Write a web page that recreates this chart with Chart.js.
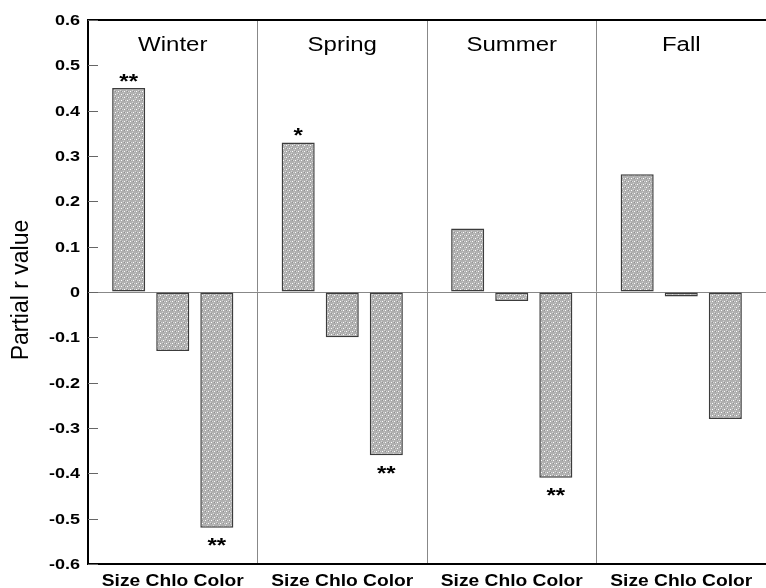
<!DOCTYPE html>
<html>
<head>
<meta charset="utf-8">
<script src="https://cdn.jsdelivr.net/npm/chart.js@4/dist/chart.umd.min.js"></script>
<style>
  html, body { margin: 0; padding: 0; background: #fff; }
  #wrap { width: 766px; height: 588px; }
</style>
</head>
<body>
<div id="wrap"><canvas id="partialChart"></canvas></div>
<script>
const seasons = ['Winter', 'Spring', 'Summer', 'Fall'];
const tickLabel = 'Size Chlo Color';
const yTitle = 'Partial r value';
const sizeValues = [0.45, 0.33, 0.14, 0.26];
const chloValues = [-0.13, -0.10, -0.02, -0.01];
const colorValues = [-0.52, -0.36, -0.41, -0.28];
const sizeSig = ['**', '*', '', ''];
const chloSig = ['', '', '', ''];
const colorSig = ['**', '**', '**', ''];

const FONT = '"Liberation Sans", Arial, sans-serif';
const STRETCH = 1.2; // the reference text is a bit wider than plain Arial

function makePattern() {
  const c = document.createElement('canvas');
  c.width = 6; c.height = 6;
  const g = c.getContext('2d');
  g.fillStyle = '#b0b0b0';
  g.fillRect(0, 0, 6, 6);
  g.fillStyle = '#d6d6d6';
  g.fillRect(0, 0, 1, 1); g.fillRect(3, 3, 1, 1);
  g.fillRect(2, 1, 1, 1); g.fillRect(5, 4, 1, 1);
  g.fillStyle = '#ffffff';
  g.fillRect(1, 4, 1, 1); g.fillRect(4, 1, 1, 1);
  g.fillStyle = '#909090';
  g.fillRect(1, 1, 1, 1); g.fillRect(4, 4, 1, 1);
  return g.createPattern(c, 'repeat');
}

// draw text squeezed/stretched horizontally around its anchor
function wideText(ctx, text, x, y, align) {
  ctx.save();
  ctx.translate(x, y);
  ctx.scale(STRETCH, 1);
  ctx.textAlign = align;
  ctx.fillText(text, 0, 0);
  ctx.restore();
}

const decor = {
  id: 'decor',
  afterDraw(chart) {
    const ctx = chart.ctx;
    const x = chart.scales.x, y = chart.scales.y;
    const area = chart.chartArea;
    ctx.save();
    // top frame line
    ctx.strokeStyle = '#000';
    ctx.lineWidth = 2;
    ctx.beginPath();
    ctx.moveTo(area.left, area.top);
    ctx.lineTo(area.right, area.top);
    ctx.stroke();
    // inner tick marks on the y axis
    ctx.strokeStyle = '#666';
    ctx.lineWidth = 1;
    y.ticks.forEach(t => {
      const py = Math.round(y.getPixelForValue(t.value)) + 0.5;
      ctx.beginPath();
      ctx.moveTo(area.left, py);
      ctx.lineTo(area.left + 10, py);
      ctx.stroke();
    });
    ctx.fillStyle = '#000';
    // y tick labels
    ctx.font = 'bold 15px ' + FONT;
    ctx.textBaseline = 'middle';
    y.ticks.forEach(t => {
      const r = Math.round(t.value * 10) / 10;
      const s = r === 0 ? '0' : r.toFixed(1);
      wideText(ctx, s, area.left - 8, y.getPixelForValue(t.value) + 1, 'right');
    });
    // y title
    ctx.save();
    ctx.translate(22, (area.top + area.bottom) / 2 - 2);
    ctx.rotate(-Math.PI / 2);
    ctx.font = '23px ' + FONT;
    ctx.textAlign = 'center';
    ctx.textBaseline = 'middle';
    ctx.fillText(yTitle, 0, 0);
    ctx.restore();
    // x labels under each season
    ctx.font = 'bold 16px ' + FONT;
    ctx.textBaseline = 'alphabetic';
    seasons.forEach((s, i) => {
      wideText(ctx, tickLabel, x.getPixelForValue(i), area.bottom + 22, 'center');
    });
    // season titles
    ctx.font = '20px ' + FONT;
    ctx.textBaseline = 'middle';
    seasons.forEach((s, i) => {
      wideText(ctx, s, x.getPixelForValue(i), area.top + 25, 'center');
    });
    // significance stars
    ctx.font = 'bold 20px ' + FONT;
    ctx.textBaseline = 'alphabetic';
    [sizeSig, chloSig, colorSig].forEach((sig, d) => {
      const meta = chart.getDatasetMeta(d);
      meta.data.forEach((bar, i) => {
        if (!sig[i]) return;
        const v = chart.data.datasets[d].data[i];
        const py = v >= 0 ? bar.y - 0.5 : bar.y + 24.5;
        wideText(ctx, sig[i], bar.x, py, 'center');
      });
    });
    ctx.restore();
  }
};

document.addEventListener('DOMContentLoaded', function () {
  const ctx = document.getElementById('partialChart').getContext('2d');
  const fill = makePattern();
  const ds = (label, data) => ({
    label: label,
    data: data,
    backgroundColor: fill,
    borderColor: '#3c3c3c',
    borderWidth: 1.5,
    borderSkipped: false,
    categoryPercentage: 0.78,
    barPercentage: 0.75
  });
  new Chart(ctx, {
    type: 'bar',
    data: {
      labels: seasons,
      datasets: [ds('Size', sizeValues), ds('Chlo', chloValues), ds('Color', colorValues)]
    },
    options: {
      responsive: true,
      maintainAspectRatio: false,
      animation: false,
      devicePixelRatio: 1,
      layout: { padding: { top: 20, right: 0, left: 0, bottom: 0 } },
      plugins: { legend: { display: false }, tooltip: { enabled: false } },
      scales: {
        x: {
          afterFit(s) { s.height = 24; },
          grid: { offset: true, drawTicks: false, color: '#888', lineWidth: 1 },
          border: { display: true, color: '#000', width: 2 },
          ticks: { display: false }
        },
        y: {
          min: -0.6,
          max: 0.6,
          afterFit(s) { s.width = 88; },
          grid: {
            drawTicks: false,
            color: c => (c.tick && Math.abs(c.tick.value) < 1e-9 ? '#888' : 'rgba(0,0,0,0)')
          },
          border: { display: true, color: '#000', width: 2 },
          ticks: { stepSize: 0.1, display: false }
        }
      }
    },
    plugins: [decor]
  });
});
</script>
</body>
</html>
